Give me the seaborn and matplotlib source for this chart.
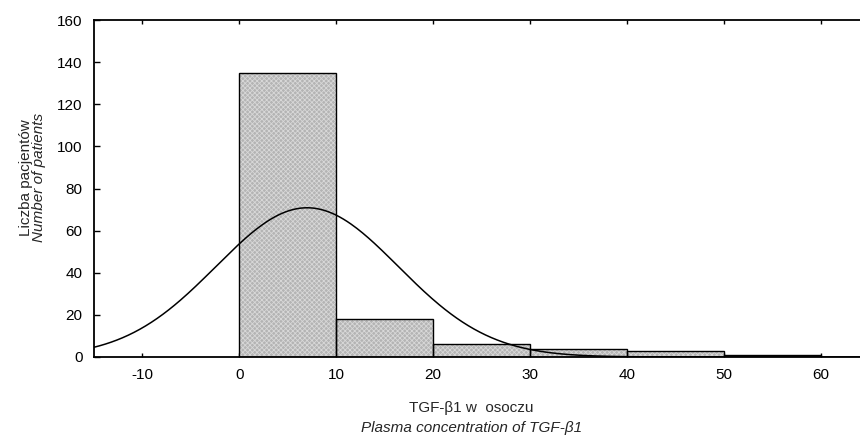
import numpy as np
import pandas as pd
import seaborn as sns
import matplotlib.pyplot as plt

# histogram bins (TGF-b1 plasma concentration) and patient counts
bin_edges = [0, 10, 20, 30, 40, 50, 60]
bin_counts = [135, 18, 6, 4, 3, 1]
# fitted normal curve parameters
fit_mean = 7.0
fit_sd = 9.4

x_ticks = [-10, 0, 10, 20, 30, 40, 50, 60]
y_ticks = [0, 20, 40, 60, 80, 100, 120, 140, 160]

sns.set_style("white")
plt.rcParams['font.family'] = ['Liberation Sans', 'DejaVu Sans']
plt.rcParams['hatch.linewidth'] = 0.6
plt.rcParams['axes.unicode_minus'] = False

df = pd.DataFrame({'start': bin_edges[:-1], 'count': bin_counts})

fig = plt.figure(figsize=(8.6, 4.38), dpi=100)
ax = fig.add_axes([0.109, 0.185, 0.891, 0.769])

# hatched fill
sns.histplot(data=df, x='start', weights='count', bins=bin_edges, ax=ax,
             color='#b4b4b4', linewidth=0, alpha=1)
n_fill = len(ax.patches)
for p in ax.patches:
    p.set_hatch('xxxxxxx')
    p.set_edgecolor('#d8d8d8')
# black outlines on top
sns.histplot(data=df, x='start', weights='count', bins=bin_edges, ax=ax,
             fill=False, linewidth=1.0)
for p in ax.patches[n_fill:]:
    p.set_edgecolor('black')
    p.set_facecolor('none')

# normal curve scaled to counts
xs = np.linspace(-15, 64, 400)
n_total = sum(bin_counts)
width = bin_edges[1] - bin_edges[0]
ys = n_total * width * np.exp(-0.5 * ((xs - fit_mean) / fit_sd) ** 2) / (fit_sd * np.sqrt(2 * np.pi))
sns.lineplot(x=xs, y=ys, ax=ax, color='black', linewidth=1.1)

ax.set_xlim(-15, 64)
ax.set_ylim(0, 160)
ax.set_xticks(x_ticks)
ax.set_yticks(y_ticks)
ax.tick_params(axis='both', direction='in', labelsize=11, color='black', width=1,
               labelcolor='black')
ax.tick_params(axis='x', length=3, top=True, bottom=True, pad=8)
ax.tick_params(axis='y', length=4, left=True, pad=8)
for side in ['left', 'bottom', 'top']:
    ax.spines[side].set_color('black')
    ax.spines[side].set_linewidth(1.3)
ax.spines['right'].set_visible(False)
ax.set_xlabel('')
ax.set_ylabel('')

fig.text(0.030, 0.595, 'Liczba pacjentów', rotation=90, ha='center', va='center', fontsize=11)
fig.text(0.045, 0.595, 'Number of patients', rotation=90, ha='center', va='center',
         fontsize=11, style='italic')
fig.text(0.548, 0.068, 'TGF-β1 w  osoczu', ha='center', va='center', fontsize=11)
fig.text(0.548, 0.023, 'Plasma concentration of TGF-β1', ha='center', va='center',
         fontsize=11, style='italic')

plt.savefig('out.png', dpi=100)
